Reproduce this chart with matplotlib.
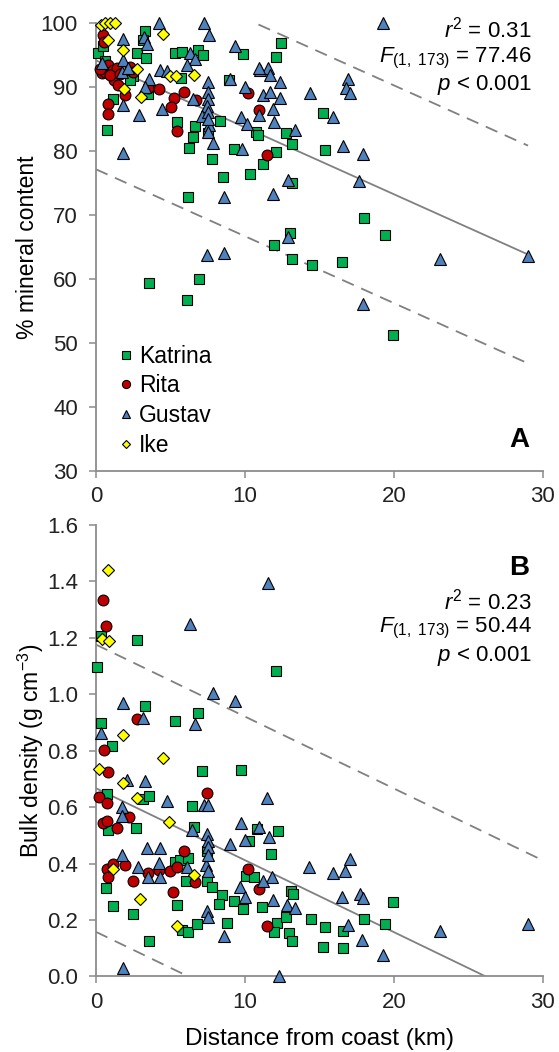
import numpy as np
import matplotlib
matplotlib.use("Agg")
import matplotlib.pyplot as plt
from matplotlib.ticker import FormatStrFormatter

plt.rcParams['font.family'] = ['Liberation Sans', 'DejaVu Sans']
plt.rcParams['mathtext.fontset'] = 'custom'
plt.rcParams['mathtext.rm'] = 'Liberation Sans'
plt.rcParams['mathtext.it'] = 'Liberation Sans:italic'

# ---- Panel A: % mineral content vs distance from coast (km) ----
katrina_a_x = [12.39, 12.06, 15.26, 12.75, 13.18, 15.37, 12.06, 11.19, 13.13, 18.0, 19.4, 13.02,
               11.97, 13.13, 16.49, 14.52, 3.56, 6.09, 6.91, 19.95, 3.27, 3.16, 0.16, 0.45, 2.77,
               3.33, 5.32, 5.77, 6.87, 7.16, 5.68, 2.46, 1.12, 3.51, 0.72, 5.42, 6.64, 6.49, 6.22,
               7.77, 8.32, 8.95, 9.26, 8.5, 10.34, 6.2, 9.85, 10.74, 10.85, 7.54, 0.6, 2.3]
katrina_a_y = [96.8, 94.6, 85.9, 82.8, 81.0, 80.1, 79.8, 78.0, 74.9, 69.5, 66.9, 67.1,
               65.3, 63.1, 62.7, 62.1, 59.4, 56.7, 60.0, 51.2, 98.7, 97.3, 95.2, 96.3, 95.3,
               94.4, 95.2, 95.4, 95.7, 95.0, 91.3, 91.7, 88.0, 88.9, 83.2, 84.5, 83.9, 82.2, 80.4,
               78.7, 84.7, 91.0, 80.3, 75.9, 76.4, 72.8, 95.1, 83.0, 82.5, 82.7, 94.0, 91.0]

rita_a_x = [0.49, 0.54, 0.38, 0.6, 0.83, 1.16, 1.39, 1.21, 1.46, 1.95, 0.83, 0.83, 2.28, 2.46,
            3.51, 4.25, 5.23, 5.93, 5.01, 5.46, 6.71, 10.22, 10.96, 11.5, 0.3, 0.95, 1.6]
rita_a_y = [98.1, 97.0, 92.2, 92.3, 93.4, 92.6, 92.9, 91.0, 90.3, 88.7, 87.25, 85.8, 93.1, 92.3,
            89.75, 89.6, 88.2, 89.2, 86.8, 83.1, 87.9, 89.0, 86.4, 79.3, 92.8, 91.8, 92.0]

gustav_a_x = [19.28, 11.0, 11.56, 11.68, 12.35, 11.23, 11.68, 12.35, 14.36, 16.89, 16.78, 17.05,
              11.86, 11.95, 15.93, 13.36, 16.56, 17.9, 12.91, 17.67, 11.86, 12.91, 23.09, 29.0,
              7.43, 8.59, 17.9, 4.25, 7.25, 7.6, 1.79, 3.2, 3.4, 9.33, 6.31, 6.64, 6.13, 1.83,
              0.38, 1.72, 2.17, 4.29, 4.79, 3.58, 3.29, 7.54, 8.99, 9.99, 10.94, 7.54, 7.54, 7.43,
              1.79, 4.41, 6.53, 2.91, 7.09, 9.71, 10.96, 10.11, 7.6, 7.5, 7.87, 9.78, 1.83, 8.59,
              7.5, 7.5]
gustav_a_y = [100.0, 92.6, 92.9, 91.8, 90.8, 88.7, 89.1, 88.3, 89.0, 91.2, 89.75, 89.0,
              86.5, 84.5, 85.2, 83.3, 80.7, 79.5, 75.4, 75.2, 73.3, 66.5, 63.1, 63.6,
              63.7, 64.0, 56.0, 100.0, 100.0, 98.1, 97.4, 97.7, 96.6, 96.4, 95.3, 94.3, 93.4, 94.2,
              93.7, 92.3, 92.9, 92.6, 92.5, 91.2, 90.0, 90.8, 91.2, 89.9, 92.9, 89.2, 88.0, 87.0,
              87.1, 86.5, 88.0, 85.6, 85.4, 85.3, 85.6, 84.2, 84.0, 83.0, 81.2, 80.2, 79.7, 72.8,
              86.0, 85.0]

ike_a_x = [0.36, 0.6, 0.92, 1.25, 0.8, 1.8, 2.77, 1.88, 3.04, 4.5, 4.95, 5.39, 6.58]
ike_a_y = [99.6, 100.0, 100.0, 100.0, 97.3, 95.7, 92.7, 89.7, 88.4, 98.2, 91.6, 91.7, 91.8]

# regression (solid) and prediction band (dashed), panel A
fit_a = [94.1, -1.045]
band_a = 17.0
fit_a_xmax = 29.0

# ---- Panel B: bulk density (g cm-3) vs distance from coast (km) ----
katrina_b_x = [0.31, 0.09, 2.73, 12.06, 0.31, 3.29, 6.87, 5.3, 1.1, 7.09, 9.73,
               0.72, 3.18, 3.58, 6.42, 2.68, 0.83, 6.58, 7.47, 5.3, 5.64, 6.2, 6.04, 7.43, 7.77,
               8.43, 8.28, 9.26, 9.89, 0.65, 1.12, 2.46, 5.41, 5.75, 6.2, 6.8, 8.81, 3.56, 11.12,
               12.13, 11.95, 10.07, 10.6, 10.29, 10.78, 11.72, 12.24,
               13.07, 13.2, 12.75, 12.97, 13.13, 14.43, 15.37, 16.56, 15.26, 16.56, 18.0, 19.4, 19.95]
katrina_b_y = [1.207, 1.095, 1.191, 1.083, 0.898, 0.959, 0.933, 0.906, 0.815, 0.727, 0.730,
               0.647, 0.628, 0.638, 0.605, 0.525, 0.519, 0.529, 0.443, 0.407, 0.411, 0.419, 0.340, 0.340, 0.318,
               0.289, 0.257, 0.269, 0.238, 0.315, 0.250, 0.222, 0.254, 0.165, 0.159, 0.186, 0.191, 0.124, 0.245,
               0.189, 0.159, 0.356, 0.354, 0.481, 0.522, 0.434, 0.517,
               0.304, 0.293, 0.210, 0.155, 0.127, 0.203, 0.174, 0.162, 0.103, 0.100, 0.203, 0.186, 0.265]

rita_b_x = [0.49, 0.67, 2.73, 0.54, 0.83, 0.22, 0.76, 7.47, 0.45, 0.76, 1.39, 2.21, 5.9, 0.76,
            0.83, 1.16, 1.95, 2.46, 3.51, 4.23, 4.97, 5.46, 6.64, 5.19, 10.22, 10.96, 11.46]
rita_b_y = [1.335, 1.243, 0.912, 0.803, 0.723, 0.635, 0.616, 0.650, 0.543, 0.552, 0.525, 0.564, 0.446, 0.380,
            0.354, 0.399, 0.395, 0.340, 0.368, 0.378, 0.375, 0.387, 0.336, 0.299, 0.380, 0.309, 0.179]

gustav_b_x = [11.57, 6.31, 7.87, 9.33, 1.79, 3.18, 6.64, 0.31,
              2.06, 3.29, 4.74, 1.72, 1.72, 7.25, 7.54, 6.42, 7.43, 7.54, 8.99, 9.71, 10.96, 10.0,
              11.63, 11.5, 1.72, 3.4, 4.3, 2.84, 3.51, 4.3, 4.25, 6.09, 7.38, 7.54, 9.66, 10.0,
              11.79, 11.9, 7.43, 7.54, 8.59, 1.79, 12.3, 7.5, 7.5,
              14.32, 15.88, 16.71, 17.05, 11.19, 12.84, 13.36, 16.49, 17.72, 17.9, 16.93, 17.83,
              19.24, 23.09, 29.02]
gustav_b_y = [1.394, 1.250, 1.006, 0.975, 0.969, 0.916, 0.895, 0.862,
              0.697, 0.691, 0.623, 0.602, 0.569, 0.608, 0.608, 0.519, 0.505, 0.481, 0.470, 0.545, 0.529, 0.484,
              0.494, 0.632, 0.431, 0.455, 0.455, 0.389, 0.352, 0.352, 0.401, 0.389, 0.395, 0.372, 0.318, 0.283,
              0.352, 0.271, 0.233, 0.212, 0.144, 0.029, 0.0, 0.460, 0.430,
              0.389, 0.368, 0.372, 0.416, 0.340, 0.254, 0.242, 0.283, 0.293, 0.277, 0.183, 0.129,
              0.076, 0.162, 0.186]

ike_b_x = [0.78, 0.38, 0.9, 1.79, 4.47, 0.22, 1.79, 2.77, 4.92, 1.16, 6.6, 2.95, 5.41]
ike_b_y = [1.44, 1.196, 1.19, 0.856, 0.774, 0.736, 0.685, 0.632, 0.549, 0.38, 0.36, 0.275, 0.18]

fit_b = [0.667, -0.0255]
band_b = 0.509
fit_b_xmax = 29.9

storms = ['Katrina', 'Rita', 'Gustav', 'Ike']
markers = ['s', 'o', '^', 'D']
colors = ['#00B050', '#C00000', '#4F81BD', '#FFFF00']
sizes = [7.8, 7.8, 8.4, 5.9]

grey = '#8C8C8C'
line_grey = '#808080'

fig = plt.figure(figsize=(5.59, 10.52), dpi=100)
axA = fig.add_axes([0.1717, 0.5523, 0.7996, 0.4262])
axB = fig.add_axes([0.1717, 0.0718, 0.7996, 0.4292])


def style_axes(ax):
    for s in ['top', 'right']:
        ax.spines[s].set_visible(False)
    for s in ['left', 'bottom']:
        ax.spines[s].set_color(grey)
        ax.spines[s].set_linewidth(1.3)
    ax.tick_params(axis='both', direction='out', length=5, width=1.1, color=grey,
                   labelsize=16, labelcolor='#222222')
    ax.tick_params(axis='y', pad=8)
    ax.tick_params(axis='x', pad=6)
    ax.set_xlim(0, 30)
    ax.set_xticks([0, 10, 20, 30])


def draw_fit(ax, fit, band, xmax):
    xs = np.array([0, xmax])
    ax.plot(xs, fit[0] + fit[1] * xs, color=line_grey, lw=1.3, zorder=1)
    for off in (band, -band):
        ax.plot(xs, fit[0] + off + fit[1] * xs, color=line_grey, lw=1.3,
                dashes=(7, 4.5), zorder=1)


def draw_points(ax, data):
    handles = []
    for (xs, ys), name, m, c, ms in zip(data, storms, markers, colors, sizes):
        h, = ax.plot(xs, ys, ls='none', marker=m, ms=ms, mfc=c, mec='black',
                     mew=0.8, label=name, zorder=3, clip_on=False)
        handles.append(h)
    return handles


# Panel A
style_axes(axA)
axA.set_ylim(30, 100)
axA.set_yticks(range(30, 101, 10))
draw_fit(axA, fit_a, band_a, fit_a_xmax)
hA = draw_points(axA, [(katrina_a_x, katrina_a_y), (rita_a_x, rita_a_y),
                       (gustav_a_x, gustav_a_y), (ike_a_x, ike_a_y)])
axA.set_ylabel('% mineral content', fontsize=16.5, labelpad=1)
leg = axA.legend(handles=hA, loc='lower left', bbox_to_anchor=(0.02, 0.0), frameon=False,
                 fontsize=16.5, markerscale=0.75, handlelength=0.6, handletextpad=0.3,
                 labelspacing=0.3, borderaxespad=0.2)
axA.text(0.975, 0.985, r'$r^2$ = 0.31', transform=axA.transAxes, ha='right', va='center', fontsize=16)
axA.text(0.975, 0.92, r'$F_{\mathrm{(1,\ 173)}}$ = 77.46', transform=axA.transAxes, ha='right',
         va='center', fontsize=16)
axA.text(0.975, 0.86, r'$p$ < 0.001', transform=axA.transAxes, ha='right', va='center', fontsize=16)
axA.text(0.97, 0.04, 'A', transform=axA.transAxes, ha='right', va='bottom', fontsize=20,
         fontweight='bold')

# Panel B
style_axes(axB)
axB.set_ylim(0, 1.6)
axB.set_yticks(np.arange(0, 1.61, 0.2))
axB.yaxis.set_major_formatter(FormatStrFormatter('%.1f'))
draw_fit(axB, fit_b, band_b, fit_b_xmax)
draw_points(axB, [(katrina_b_x, katrina_b_y), (rita_b_x, rita_b_y),
                  (gustav_b_x, gustav_b_y), (ike_b_x, ike_b_y)])
axB.set_ylabel(r'Bulk density (g cm$^{-3}$)', fontsize=16.5, labelpad=1)
axB.set_xlabel('Distance from coast (km)', fontsize=17.5, labelpad=11)
axB.text(0.97, 0.905, 'B', transform=axB.transAxes, ha='right', va='center', fontsize=20,
         fontweight='bold')
axB.text(0.975, 0.83, r'$r^2$ = 0.23', transform=axB.transAxes, ha='right', va='center', fontsize=16)
axB.text(0.975, 0.77, r'$F_{\mathrm{(1,\ 173)}}$ = 50.44', transform=axB.transAxes, ha='right',
         va='center', fontsize=16)
axB.text(0.975, 0.71, r'$p$ < 0.001', transform=axB.transAxes, ha='right', va='center', fontsize=16)

fig.savefig('out.png', dpi=100)
